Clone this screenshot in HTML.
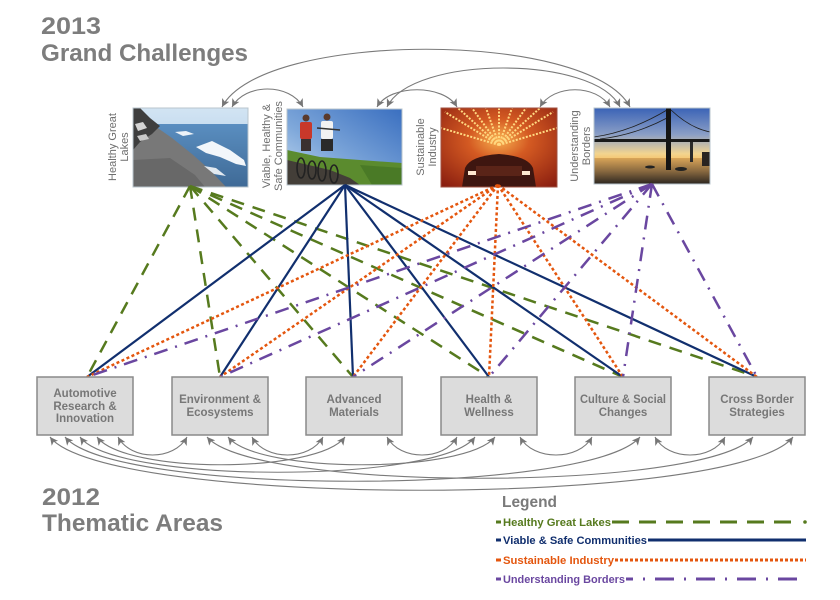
<!DOCTYPE html>
<html>
<head>
<meta charset="utf-8">
<style>
html,body{margin:0;padding:0;background:#fff;}
svg{display:block;}
text{font-family:"Liberation Sans","DejaVu Sans",sans-serif;}
</style>
</head>
<body>
<svg width="840" height="600" viewBox="0 0 840 600" xmlns="http://www.w3.org/2000/svg">
<defs>
  <marker id="ah" viewBox="0 0 10 10" refX="10" refY="5" markerWidth="9" markerHeight="8" markerUnits="userSpaceOnUse" orient="auto-start-reverse">
    <path d="M0,0 L10,5 L0,10 L2.5,5 z" fill="#767676"/>
  </marker>
  <clipPath id="c1"><rect x="133" y="108" width="115" height="79"/></clipPath>
  <clipPath id="c2"><rect x="287" y="109" width="115" height="76"/></clipPath>
  <clipPath id="c3"><rect x="441" y="108" width="116" height="79"/></clipPath>
  <clipPath id="c4"><rect x="594" y="108" width="116" height="76"/></clipPath>
  <linearGradient id="g1sky" x1="0" y1="0" x2="0" y2="1"><stop offset="0" stop-color="#d2e4f3"/><stop offset="1" stop-color="#a9c8e4"/></linearGradient>
  <linearGradient id="g1w" x1="0" y1="0" x2="0" y2="1"><stop offset="0" stop-color="#5a8ec0"/><stop offset="1" stop-color="#3f6a96"/></linearGradient>
  <linearGradient id="g2sky" x1="1" y1="0" x2="0" y2="1"><stop offset="0" stop-color="#3a6fc0"/><stop offset="0.6" stop-color="#7fa8da"/><stop offset="1" stop-color="#c4daf0"/></linearGradient>
  <radialGradient id="g3" cx="0.5" cy="0.4" r="0.75"><stop offset="0" stop-color="#f8b050"/><stop offset="0.35" stop-color="#d45a22"/><stop offset="1" stop-color="#8a1e10"/></radialGradient>
  <linearGradient id="g4sky" x1="0" y1="0" x2="0" y2="1"><stop offset="0" stop-color="#3b63b6"/><stop offset="0.35" stop-color="#8b9fc6"/><stop offset="0.6" stop-color="#f2d490"/><stop offset="0.68" stop-color="#f6c46c"/><stop offset="1" stop-color="#f4b860"/></linearGradient>
  <linearGradient id="g4w" x1="0" y1="0" x2="0" y2="1"><stop offset="0" stop-color="#d9a558"/><stop offset="0.5" stop-color="#8a6a40"/><stop offset="1" stop-color="#2c2620"/></linearGradient>
</defs>

<!-- Titles -->
<text x="41" y="34" font-size="24" font-weight="bold" fill="#7d7d7d" textLength="60" lengthAdjust="spacingAndGlyphs">2013</text>
<text x="41" y="61" font-size="24" font-weight="bold" fill="#7d7d7d" textLength="207" lengthAdjust="spacingAndGlyphs">Grand Challenges</text>
<text x="42" y="505" font-size="24" font-weight="bold" fill="#7d7d7d" textLength="58" lengthAdjust="spacingAndGlyphs">2012</text>
<text x="42" y="531" font-size="24" font-weight="bold" fill="#7d7d7d" textLength="181" lengthAdjust="spacingAndGlyphs">Thematic Areas</text>

<!-- Top arcs -->
<g fill="none" stroke="#7a7a7a" stroke-width="1.1" marker-start="url(#ah)" marker-end="url(#ah)">
  <path d="M232,107 C245,83 290,83 303,107"/>
  <path d="M222,107 C262,30 590,30 630,107"/>
  <path d="M377,107 C390,84 444,84 457,107"/>
  <path d="M387,107 C412,55 595,55 620,107"/>
  <path d="M540,107 C553,84 597,84 610,107"/>
</g>

<!-- Image 1: Healthy Great Lakes -->
<g clip-path="url(#c1)">
  <rect x="133" y="108" width="115" height="79" fill="url(#g1sky)"/>
  <rect x="133" y="124" width="115" height="63" fill="url(#g1w)"/>
  <polygon points="133,124 152,124 172,138 192,154 210,170 226,187 133,187" fill="#787878"/>
  <polygon points="133,160 170,158 195,175 205,187 133,187" fill="#686868"/>
  <polygon points="133,108 140,108 150,118 160,126 152,134 140,142 133,150" fill="#3e3e3e"/>
  <polygon points="135,124 143,122 147,128 138,131" fill="#d4d4d4"/>
  <polygon points="137,136 146,134 149,139 140,141" fill="#c8c8c8"/>
  <polygon points="175,132 186,131 194,134 183,136" fill="#eef3f8"/>
  <polygon points="196,147 212,141 230,150 244,160 246,166 236,164 220,157 206,153" fill="#f2f6fa"/>
  <polygon points="204,166 216,168 226,176 214,174" fill="#e2e9f0"/>
</g>
<rect x="133" y="108" width="115" height="79" fill="none" stroke="#b8c4cc" stroke-width="1"/>

<!-- Image 2: Viable -->
<g clip-path="url(#c2)">
  <rect x="287" y="109" width="115" height="76" fill="url(#g2sky)"/>
  <polygon points="287,150 320,157 360,160 402,163 402,185 287,185" fill="#5b8b2e"/>
  <polygon points="287,160 330,170 350,178 360,185 287,185" fill="#433e38"/>
  <polygon points="360,165 402,168 402,185 372,185" fill="#4a7a26"/>
  <circle cx="306" cy="118" r="3.5" fill="#5a3a2c"/>
  <rect x="300" y="122" width="12" height="17" rx="2" fill="#c8382a"/>
  <rect x="301" y="139" width="10" height="12" fill="#3a3030"/>
  <ellipse cx="301" cy="168" rx="4" ry="10" fill="none" stroke="#222" stroke-width="1.6"/>
  <ellipse cx="312" cy="170" rx="4" ry="9" fill="none" stroke="#222" stroke-width="1.6"/>
  <circle cx="327" cy="117" r="3.5" fill="#5a3a2c"/>
  <rect x="321" y="121" width="12" height="18" rx="2" fill="#f2f2f2"/>
  <rect x="321" y="139" width="12" height="12" fill="#2a2a2a"/>
  <line x1="317" y1="128" x2="340" y2="130" stroke="#333" stroke-width="1.5"/>
  <ellipse cx="322" cy="171" rx="4" ry="10" fill="none" stroke="#222" stroke-width="1.6"/>
  <ellipse cx="334" cy="174" rx="4" ry="9" fill="none" stroke="#222" stroke-width="1.6"/>
</g>
<rect x="287" y="109" width="115" height="76" fill="none" stroke="#b8c4cc" stroke-width="1"/>

<!-- Image 3: Sustainable -->
<g clip-path="url(#c3)">
  <rect x="441" y="108" width="116" height="79" fill="url(#g3)"/>
  <g stroke="#ffd880" stroke-width="2" stroke-dasharray="2 1.5" fill="none">
    <line x1="499" y1="145" x2="445" y2="112"/>
    <line x1="499" y1="145" x2="458" y2="108"/>
    <line x1="499" y1="145" x2="472" y2="108"/>
    <line x1="499" y1="145" x2="486" y2="108"/>
    <line x1="499" y1="145" x2="499" y2="108"/>
    <line x1="499" y1="145" x2="512" y2="108"/>
    <line x1="499" y1="145" x2="526" y2="108"/>
    <line x1="499" y1="145" x2="540" y2="108"/>
    <line x1="499" y1="145" x2="553" y2="112"/>
    <line x1="499" y1="145" x2="441" y2="128"/>
    <line x1="499" y1="145" x2="557" y2="128"/>
  </g>
  <path d="M462,187 L465,168 Q470,156 499,154 Q528,156 533,168 L536,187 Z" fill="#3e1610"/>
  <rect x="468" y="171" width="8" height="4" fill="#ffe8d0"/>
  <rect x="522" y="171" width="8" height="4" fill="#ffe8d0"/>
  <rect x="476" y="166" width="46" height="10" fill="#5a2418"/>
</g>
<rect x="441" y="108" width="116" height="79" fill="none" stroke="#a05040" stroke-width="1"/>

<!-- Image 4: Understanding Borders -->
<g clip-path="url(#c4)">
  <rect x="594" y="108" width="116" height="76" fill="url(#g4sky)"/>
  <rect x="594" y="158" width="116" height="26" fill="url(#g4w)"/>
  <g stroke="#1e1e1e" stroke-width="0.8" fill="none">
    <path d="M667,110 Q630,132 594,137"/>
    <path d="M671,110 Q690,128 710,132"/>
    <path d="M667,118 Q635,135 600,139"/>
  </g>
  <rect x="594" y="139" width="116" height="3" fill="#1a1a1a"/>
  <rect x="666" y="108" width="5" height="62" fill="#141414"/>
  <rect x="690" y="142" width="3" height="20" fill="#2a2a2a"/>
  <ellipse cx="650" cy="167" rx="5" ry="1.5" fill="#222"/>
  <ellipse cx="681" cy="169" rx="6" ry="2" fill="#222"/>
  <rect x="702" y="152" width="8" height="14" fill="#2a2420"/>
</g>
<rect x="594" y="108" width="116" height="76" fill="none" stroke="#b8c4cc" stroke-width="1"/>

<!-- Rotated labels -->
<g font-size="11" fill="#6e6e6e" text-anchor="middle">
  <g transform="translate(118,147) rotate(-90)"><text x="0" y="-2">Healthy Great</text><text x="0" y="10">Lakes</text></g>
  <g transform="translate(272,146) rotate(-90)"><text x="0" y="-2">Viable, Healthy &amp;</text><text x="0" y="10">Safe Communities</text></g>
  <g transform="translate(426,147) rotate(-90)"><text x="0" y="-2">Sustainable</text><text x="0" y="10">Industry</text></g>
  <g transform="translate(580,146) rotate(-90)"><text x="0" y="-2">Understanding</text><text x="0" y="10">Borders</text></g>
</g>

<!-- Connection lines -->
<g fill="none" stroke="#567a1e" stroke-width="2.5" stroke-dasharray="13 9">
  <line x1="190" y1="186" x2="87" y2="377"/>
  <line x1="190" y1="186" x2="220" y2="377"/>
  <line x1="190" y1="186" x2="353" y2="377"/>
  <line x1="190" y1="186" x2="489" y2="377"/>
  <line x1="190" y1="186" x2="623" y2="377"/>
  <line x1="190" y1="186" x2="757" y2="377"/>
</g>
<g fill="none" stroke="#112f6e" stroke-width="2.2">
  <line x1="345" y1="185" x2="87" y2="377"/>
  <line x1="345" y1="185" x2="220" y2="377"/>
  <line x1="345" y1="185" x2="353" y2="377"/>
  <line x1="345" y1="185" x2="489" y2="377"/>
  <line x1="345" y1="185" x2="623" y2="377"/>
  <line x1="345" y1="185" x2="757" y2="377"/>
</g>
<g fill="none" stroke="#e4560e" stroke-width="2.5" stroke-dasharray="3 2.5">
  <line x1="498" y1="185" x2="87" y2="377"/>
  <line x1="498" y1="185" x2="220" y2="377"/>
  <line x1="498" y1="185" x2="353" y2="377"/>
  <line x1="498" y1="185" x2="489" y2="377"/>
  <line x1="498" y1="185" x2="623" y2="377"/>
  <line x1="498" y1="185" x2="757" y2="377"/>
</g>
<g fill="none" stroke="#6a47a0" stroke-width="2.5" stroke-dasharray="14 8 2 8">
  <line x1="652" y1="184" x2="87" y2="377"/>
  <line x1="652" y1="184" x2="220" y2="377"/>
  <line x1="652" y1="184" x2="353" y2="377"/>
  <line x1="652" y1="184" x2="489" y2="377"/>
  <line x1="652" y1="184" x2="623" y2="377"/>
  <line x1="652" y1="184" x2="757" y2="377"/>
</g>

<!-- Bottom arcs -->
<g fill="none" stroke="#7a7a7a" stroke-width="1.1" marker-start="url(#ah)" marker-end="url(#ah)">
  <path d="M118,437 C131,461 174,461 187,437"/>
  <path d="M252,437 C265,461 310,461 323,437"/>
  <path d="M387,437 C400,461 444,461 457,437"/>
  <path d="M520,437 C533,461 579,461 592,437"/>
  <path d="M655,437 C668,461 712,461 725,437"/>
  <path d="M97,437 C125,474 317,474 345,437"/>
  <path d="M80,437 C115,484 440,484 475,437"/>
  <path d="M228,437 C258,474 465,474 495,437"/>
  <path d="M65,437 C115,496 590,496 640,437"/>
  <path d="M207,437 C255,492 705,492 753,437"/>
  <path d="M50,437 C105,508 738,508 793,437"/>
</g>

<!-- Boxes -->
<g fill="#dcdcdc" stroke="#8a8a8a" stroke-width="1.5">
  <rect x="37" y="377" width="96" height="58"/>
  <rect x="172" y="377" width="96" height="58"/>
  <rect x="306" y="377" width="96" height="58"/>
  <rect x="441" y="377" width="96" height="58"/>
  <rect x="575" y="377" width="96" height="58"/>
  <rect x="709" y="377" width="96" height="58"/>
</g>
<g font-size="11.5" font-weight="bold" fill="#777" text-anchor="middle">
  <text x="85" y="397">Automotive</text>
  <text x="85" y="410">Research &amp;</text>
  <text x="85" y="422">Innovation</text>
  <text x="220" y="403">Environment &amp;</text>
  <text x="220" y="416">Ecosystems</text>
  <text x="354" y="403">Advanced</text>
  <text x="354" y="416">Materials</text>
  <text x="489" y="403">Health &amp;</text>
  <text x="489" y="416">Wellness</text>
  <text x="623" y="403" textLength="86" lengthAdjust="spacingAndGlyphs">Culture &amp; Social</text>
  <text x="623" y="416">Changes</text>
  <text x="757" y="403">Cross Border</text>
  <text x="757" y="416">Strategies</text>
</g>

<!-- Legend -->
<text x="502" y="507" font-size="16" font-weight="bold" fill="#7a7a7a" textLength="55" lengthAdjust="spacingAndGlyphs">Legend</text>
<g font-size="11" font-weight="bold">
  <rect x="496" y="520.5" width="5" height="3" fill="#567a1e"/>
  <text x="503" y="526" fill="#567a1e" textLength="108" lengthAdjust="spacingAndGlyphs">Healthy Great Lakes</text>
  <rect x="496" y="538.5" width="5" height="3" fill="#112f6e"/>
  <text x="503" y="544" fill="#112f6e" textLength="144" lengthAdjust="spacingAndGlyphs">Viable &amp; Safe Communities</text>
  <rect x="496" y="558.5" width="5" height="3" fill="#e4560e"/>
  <text x="503" y="564" fill="#e4560e" textLength="111" lengthAdjust="spacingAndGlyphs">Sustainable Industry</text>
  <rect x="496" y="577.5" width="5" height="3" fill="#6a47a0"/>
  <text x="503" y="583" fill="#6a47a0" textLength="122" lengthAdjust="spacingAndGlyphs">Understanding Borders</text>
</g>
<line x1="612" y1="522" x2="800" y2="522" stroke="#567a1e" stroke-width="3" stroke-dasharray="17 10"/>
<circle cx="805" cy="522" r="1.8" fill="#567a1e"/>
<line x1="648" y1="540" x2="806" y2="540" stroke="#112f6e" stroke-width="3"/>
<line x1="615" y1="560" x2="806" y2="560" stroke="#e4560e" stroke-width="3" stroke-dasharray="3 2"/>
<line x1="626" y1="579" x2="802" y2="579" stroke="#6a47a0" stroke-width="3" stroke-dasharray="7 10 2 10 19 10 2 10 19 10 2 10 19 10 2 10 19 10 2 10 19 10 2 10"/>
</svg>
</body>
</html>
